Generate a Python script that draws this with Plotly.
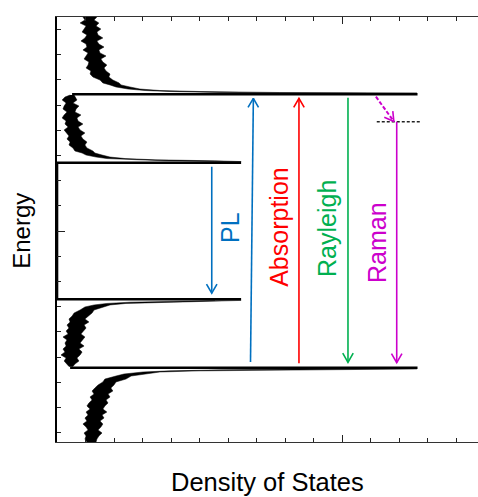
import math
import plotly.graph_objects as go

# ---- density of states (arbitrary units) vs energy ----
# each noisy branch: energies with the low / high edge of the noise band
# upper band, second sub-band (top of the frame)
e_c2 = [1.698, 1.675, 1.651, 1.627, 1.603, 1.579, 1.556, 1.532, 1.508, 1.484,
        1.460, 1.437, 1.413, 1.389, 1.365, 1.341, 1.317, 1.294, 1.270, 1.246,
        1.222, 1.198, 1.175, 1.159, 1.143, 1.127, 1.115, 1.107, 1.099, 1.094]
dos_c2_lo = [.091, .098, .081, .102, .095, .088, .105, .098, .084, .102,
             .105, .091, .109, .102, .095, .112, .109, .102, .119, .116,
             .126, .151, .161, .186, .207, .249, .309, .396, .572, .853]
dos_c2_hi = [.140, .130, .147, .137, .154, .140, .144, .161, .140, .147,
             .165, .147, .151, .172, .154, .161, .175, .165, .172, .186,
             .182, .196, .218, .225, .256, .291, .361, .502, .782, 1.263]

# upper band, first sub-band
e_c1 = [1.079, 1.063, 1.040, 1.016, .992, .968, .944, .921, .897, .873,
        .849, .825, .802, .778, .754, .730, .706, .683, .659, .635,
        .619, .603, .587, .575, .565, .557, .551]
dos_c1_lo = [.046, .028, .018, .032, .025, .021, .035, .025, .018, .032,
             .028, .039, .025, .032, .042, .035, .046, .042, .056, .063,
             .088, .102, .137, .175, .256, .379, .554]
dos_c1_hi = [.060, .063, .070, .056, .077, .067, .063, .084, .070, .074,
             .091, .074, .081, .098, .084, .091, .105, .098, .105, .126,
             .133, .158, .186, .239, .344, .554, .646]

# lower band, first sub-band
e_v1 = [-.551, -.557, -.565, -.575, -.587, -.603, -.627, -.651, -.675, -.698,
        -.722, -.746, -.770, -.794, -.817, -.841, -.865, -.889, -.913, -.937,
        -.960, -.984, -1.008, -1.032, -1.056, -1.075]
dos_v1_lo = [.554, .379, .256, .175, .130, .098, .081, .060, .053, .042,
             .046, .035, .042, .032, .039, .021, .035, .028, .032, .021,
             .028, .014, .032, .025, .035, .042]
dos_v1_hi = [.646, .554, .344, .242, .186, .161, .130, .123, .109, .098,
             .112, .095, .102, .091, .084, .098, .088, .081, .095, .077,
             .088, .081, .070, .077, .063, .056]

# lower band, second sub-band (bottom of the frame)
e_v2 = [-1.095, -1.102, -1.110, -1.119, -1.135, -1.151, -1.175, -1.198, -1.222, -1.246,
        -1.270, -1.294, -1.317, -1.341, -1.365, -1.389, -1.413, -1.437, -1.460, -1.484,
        -1.508, -1.532, -1.556, -1.579, -1.603, -1.627, -1.651, -1.675]
dos_v2_lo = [.853, .572, .396, .302, .235, .207, .168, .161, .144, .133,
             .123, .130, .116, .123, .112, .105, .116, .102, .109, .098,
             .105, .091, .102, .109, .095, .102, .098, .105]
dos_v2_hi = [1.263, .782, .502, .361, .309, .260, .242, .207, .200, .189,
             .196, .179, .186, .172, .179, .168, .161, .175, .158, .165,
             .151, .161, .154, .144, .158, .147, .140, .137]

# van Hove peaks: energy, DOS where the sharp edge starts, peak DOS
peak_e = [1.085, 0.542, -0.542, -1.085]
peak_from = [0.053, 0.0, 0.0, 0.046]
peak_to = [1.265, 0.646, 0.646, 1.265]
gap_e = [-0.542, 0.542]

# optical transitions: start / end (DOS, energy)
arrow_x0 = [0.543, 0.679, 0.849, 1.021, 1.192, 1.119]
arrow_e0 = [0.510, -1.040, -1.050, 1.058, 0.867, 1.066]
arrow_x1 = [0.543, 0.689, 0.849, 1.021, 1.192, 1.182]
arrow_e1 = [-0.494, 1.053, 1.053, -1.042, -1.045, 0.869]
arrow_col = ["#0070C0", "#0070C0", "#FF0000", "#00B050", "#CC00CC", "#CC00CC"]
arrow_dash = ["solid", "solid", "solid", "solid", "solid", "4px,2px"]

# virtual level reached in Raman scattering
virt_x = [1.122, 1.279]
virt_e = [0.867, 0.867]

labels = ["PL", "Absorption", "Rayleigh", "Raman"]
label_x = [0.609, 0.781, 0.949, 1.123]
label_e = [0.028, 0.030, 0.020, -0.095]
label_col = ["#0070C0", "#FF0000", "#00B050", "#CC00CC"]

# ---- layout geometry ----
W, H = 478, 497
ML, MR, MT, MB = 57, 0, 17, 55
x_range = [0, 1.4772]
y_range = [-1.6746, 1.6984]
sx = (W - ML - MR) / (x_range[1] - x_range[0])   # px per DOS unit
sy = (H - MT - MB) / (y_range[1] - y_range[0])   # px per energy unit

FONT = "Liberation Sans, Arial, sans-serif"

fig = go.Figure()

# noisy DOS branches drawn as filled bands
for e, lo, hi in [(e_c2, dos_c2_lo, dos_c2_hi), (e_c1, dos_c1_lo, dos_c1_hi),
                  (e_v1, dos_v1_lo, dos_v1_hi), (e_v2, dos_v2_lo, dos_v2_hi)]:
    fig.add_trace(go.Scatter(
        x=list(hi) + list(lo)[::-1], y=list(e) + list(e)[::-1],
        mode="lines", fill="toself", fillcolor="black",
        line=dict(color="black", width=0.5), hoverinfo="skip", showlegend=False))

# sharp sub-band edges
for e, a, b in zip(peak_e, peak_from, peak_to):
    fig.add_trace(go.Scatter(x=[a, b], y=[e, e], mode="lines",
                             line=dict(color="black", width=2.6),
                             hoverinfo="skip", showlegend=False))

# zero DOS inside the gap
fig.add_trace(go.Scatter(x=[0, 0], y=gap_e, mode="lines",
                         line=dict(color="black", width=2.6),
                         hoverinfo="skip", showlegend=False))

# virtual level
fig.add_trace(go.Scatter(x=virt_x, y=virt_e, mode="lines",
                         line=dict(color="#222222", width=1.3, dash="3px,2px"),
                         hoverinfo="skip", showlegend=False))


def chevron(x0, y0, x1, y1, arm=10.5, half=30):
    """Open arrowhead at (x1, y1), built in pixel space."""
    ux, uy = (x1 - x0) * sx, (y1 - y0) * sy
    n = math.hypot(ux, uy)
    ux, uy = ux / n, uy / n
    xs, ys = [], []
    for sgn in (1, -1):
        a = math.radians(half) * sgn
        rx = ux * math.cos(a) - uy * math.sin(a)
        ry = ux * math.sin(a) + uy * math.cos(a)
        xs.append(x1 - arm * rx / sx)
        ys.append(y1 - arm * ry / sy)
    return [xs[0], x1, xs[1]], [ys[0], y1, ys[1]]


for x0, e0, x1, e1, c, d in zip(arrow_x0, arrow_e0, arrow_x1, arrow_e1,
                                arrow_col, arrow_dash):
    fig.add_trace(go.Scatter(x=[x0, x1], y=[e0, e1], mode="lines",
                             line=dict(color=c, width=1.6 if d == "solid" else 2, dash=d),
                             hoverinfo="skip", showlegend=False))
    hx, hy = chevron(x0, e0, x1, e1)
    fig.add_trace(go.Scatter(x=hx, y=hy, mode="lines",
                             line=dict(color=c, width=1.6),
                             hoverinfo="skip", showlegend=False))

for t, x, e, c in zip(labels, label_x, label_e, label_col):
    fig.add_annotation(x=x, y=e, xref="x", yref="y", text=t, showarrow=False,
                       textangle=-90, font=dict(family=FONT, size=25, color=c),
                       xanchor="center", yanchor="middle")

fig.add_annotation(x=0.5, y=-0.094, xref="paper", yref="paper",
                   text="Density of States", showarrow=False,
                   font=dict(family=FONT, size=25.5, color="black"),
                   xanchor="center", yanchor="middle")
fig.add_annotation(x=-0.0831, y=0.497, xref="paper", yref="paper",
                   text="Energy", showarrow=False, textangle=-90,
                   font=dict(family=FONT, size=24, color="black"),
                   xanchor="center", yanchor="middle")

fig.update_layout(
    width=W, height=H,
    margin=dict(l=ML, r=MR, t=MT, b=MB, pad=0),
    paper_bgcolor="white", plot_bgcolor="white",
    font=dict(family=FONT),
    xaxis=dict(range=x_range, showgrid=False, zeroline=False,
               showline=True, linecolor="#333333", linewidth=1, mirror="ticks",
               ticks="inside", tickvals=[1.0], ticklen=7, tickcolor="#222222",
               tickwidth=1, showticklabels=False,
               minor=dict(tick0=0, dtick=0.1, ticks="inside", ticklen=4,
                          tickcolor="#222222", tickwidth=1, showgrid=False)),
    yaxis=dict(range=y_range, showgrid=False, zeroline=False,
               showline=True, linecolor="black", linewidth=1.5, mirror=False,
               ticks="inside", tickvals=[0], ticklen=8, tickcolor="#222222",
               tickwidth=1, showticklabels=False,
               minor=dict(tick0=0, dtick=0.2, ticks="inside", ticklen=4,
                          tickcolor="#222222", tickwidth=1, showgrid=False)),
)

fig.write_html("out.html")
